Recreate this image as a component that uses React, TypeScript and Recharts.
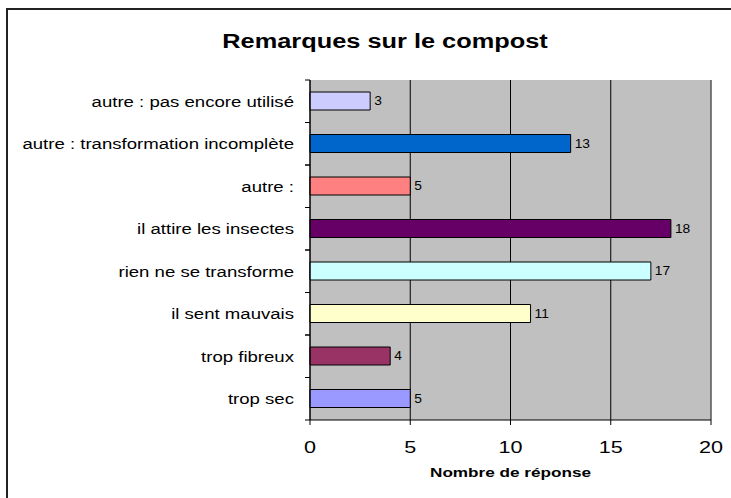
import React from 'react';
import { BarChart, Bar, XAxis, YAxis, CartesianGrid, Cell, LabelList, ReferenceLine } from 'recharts';

const categories = [
  'autre : pas encore utilisé',
  'autre : transformation incomplète',
  'autre : ',
  'il attire les insectes',
  'rien ne se transforme',
  'il sent mauvais',
  'trop fibreux',
  'trop sec',
];
const values = [3, 13, 5, 18, 17, 11, 4, 5];
const colors = ['#CCCCFF', '#0066CC', '#FF8080', '#660066', '#CCFFFF', '#FFFFCC', '#993366', '#9999FF'];
const xTicks = [0, 5, 10, 15, 20];

const data = categories.map((name, i) => ({ name, value: values[i] }));

const FONT = '"Liberation Sans", Arial, sans-serif';
const W = 731;
const H = 498;
const M = { top: 80, right: 20, bottom: 18, left: 10 };
const X_AXIS_H = 60;
const BAND = (H - M.top - M.bottom - X_AXIS_H) / categories.length;

const YTick = (props: any) => {
  const { x, y, payload } = props;
  return (
    <g>
      <line x1={x - 5} x2={x} y1={y - BAND / 2} y2={y - BAND / 2} stroke="#000" />
      <line x1={x - 5} x2={x} y1={y + BAND / 2} y2={y + BAND / 2} stroke="#000" />
      <g transform={`translate(${x - 16},${y}) scale(1.24,1)`}>
        <text x={0} y={0} dy="0.36em" textAnchor="end" fontSize={15} fill="#000" fontFamily={FONT}>
          {payload.value}
        </text>
      </g>
    </g>
  );
};

const XTick = (props: any) => {
  const { x, y, payload } = props;
  return (
    <g transform={`translate(${x},${y}) scale(1.27,1)`}>
      <text x={0} y={0} dy="0.71em" textAnchor="middle" fontSize={17} fill="#000" fontFamily={FONT}>
        {payload.value}
      </text>
    </g>
  );
};

const ValueLabel = (props: any) => {
  const { x, y, width, height, value } = props;
  return (
    <g transform={`translate(${Number(x) + Number(width) + 4},${Number(y) + Number(height) / 2}) scale(1.15,1)`}>
      <text x={0} y={0} dy="0.36em" textAnchor="start" fontSize={12} fill="#000" fontFamily={FONT}>
        {value}
      </text>
    </g>
  );
};

const AxisTitle = (props: any) => {
  const vb = props.viewBox || {};
  const cx = vb.x + vb.width / 2;
  const by = vb.y + vb.height - 3;
  return (
    <g transform={`translate(${cx},${by}) scale(1.27,1)`}>
      <text x={0} y={0} textAnchor="middle" fontSize={13.5} fontWeight="bold" fill="#000" fontFamily={FONT}>
        Nombre de réponse
      </text>
    </g>
  );
};

export default function App() {
  return (
    <div style={{ position: 'absolute', left: 0, top: 0, width: W, height: H, overflow: 'hidden', background: '#fff', fontFamily: FONT }}>
      <div style={{ position: 'absolute', left: 6, top: 8, width: 760, height: 520, border: '2px solid #222', boxSizing: 'border-box' }} />
      <div style={{ position: 'absolute', left: 7, width: 756, top: 30, textAlign: 'center', fontWeight: 'bold', fontSize: 19.5, color: '#000', transform: 'scaleX(1.3)', transformOrigin: '378px 0' }}>
        Remarques sur le compost
      </div>
      <div style={{ position: 'absolute', left: 0, top: 0 }}>
        <BarChart width={W} height={H} data={data} layout="vertical" margin={M}>
          <CartesianGrid fill="#C0C0C0" stroke="#000" horizontal={false} vertical={true} />
          <XAxis
            type="number"
            domain={[0, 20]}
            ticks={xTicks}
            interval={0}
            height={X_AXIS_H}
            tickSize={5}
            tickMargin={16}
            axisLine={{ stroke: '#000' }}
            tickLine={{ stroke: '#000' }}
            tick={<XTick />}
            label={{ value: 'Nombre de réponse', position: 'insideBottom', content: (p: any) => <AxisTitle {...p} /> }}
          />
          <XAxis xAxisId="top" orientation="top" type="number" domain={[0, 20]} height={0} tick={false} tickLine={false} axisLine={{ stroke: '#808080' }} />
          <YAxis
            type="category"
            dataKey="name"
            width={300}
            tickSize={0}
            tickMargin={0}
            interval={0}
            axisLine={{ stroke: '#000' }}
            tickLine={false}
            tick={<YTick />}
          />
          <ReferenceLine x={20} stroke="#808080" />
          <Bar dataKey="value" barSize={18} stroke="#000" strokeWidth={1} isAnimationActive={false}>
            {data.map((d, i) => (
              <Cell key={d.name} fill={colors[i]} />
            ))}
            <LabelList dataKey="value" content={(p: any) => <ValueLabel {...p} />} />
          </Bar>
        </BarChart>
      </div>
    </div>
  );
}
